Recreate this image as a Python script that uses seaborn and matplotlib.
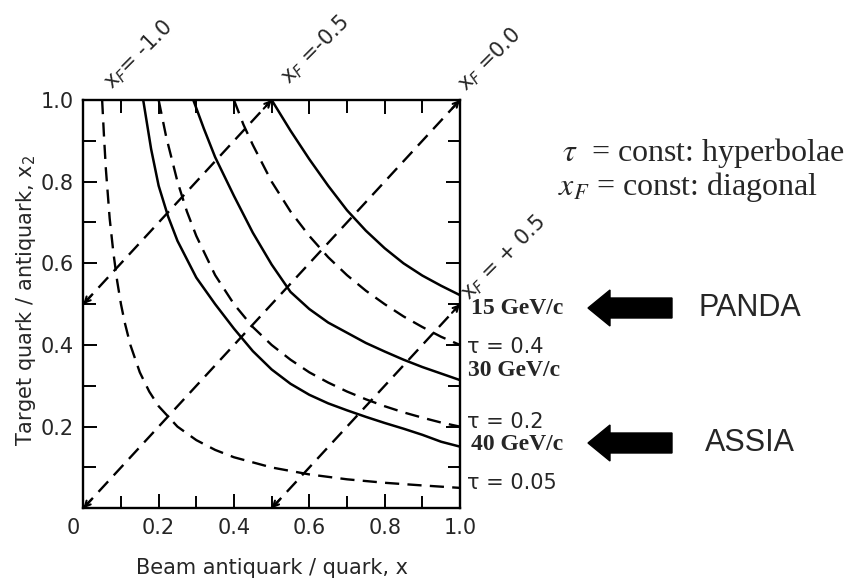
import matplotlib
matplotlib.use("Agg")
import matplotlib.pyplot as plt
import matplotlib.transforms as mtrans
import seaborn as sns
from matplotlib.patches import FancyArrow

# curves (beam x, target x2)
tau_labels = ["τ = 0.05", "τ = 0.2", "τ = 0.4"]
tau005_x = [0.05, 0.055, 0.06, 0.065, 0.07, 0.08, 0.09, 0.10, 0.11, 0.125, 0.15, 0.175, 0.20, 0.25,
            0.30, 0.35, 0.40, 0.50, 0.60, 0.70, 0.80, 0.90, 1.00]
tau005_y = [1.00, 0.91, 0.83, 0.77, 0.71, 0.625, 0.556, 0.50, 0.455, 0.40, 0.333, 0.286, 0.25, 0.20,
            0.167, 0.143, 0.125, 0.10, 0.083, 0.071, 0.0625, 0.056, 0.05]
tau02_x = [0.20, 0.22, 0.25, 0.275, 0.30, 0.35, 0.40, 0.45, 0.50, 0.55, 0.60, 0.65, 0.70, 0.75,
           0.80, 0.85, 0.90, 0.95, 1.00]
tau02_y = [1.00, 0.91, 0.80, 0.727, 0.667, 0.571, 0.50, 0.444, 0.40, 0.364, 0.333, 0.308, 0.286, 0.267,
           0.25, 0.235, 0.222, 0.21, 0.20]
tau04_x = [0.40, 0.425, 0.45, 0.50, 0.55, 0.60, 0.65, 0.70, 0.75, 0.80, 0.85, 0.90, 0.95, 1.00]
tau04_y = [1.00, 0.94, 0.89, 0.80, 0.727, 0.667, 0.615, 0.571, 0.533, 0.50, 0.47, 0.444, 0.42, 0.40]

gev_labels = ["15 GeV/c", "30 GeV/c", "40 GeV/c"]
p15_x = [0.50, 0.55, 0.60, 0.65, 0.70, 0.75, 0.80, 0.85, 0.90, 0.95, 1.00]
p15_y = [1.00, 0.925, 0.855, 0.79, 0.73, 0.68, 0.637, 0.60, 0.57, 0.545, 0.522]
p30_x = [0.292, 0.32, 0.35, 0.40, 0.45, 0.50, 0.55, 0.60, 0.65, 0.70, 0.75, 0.80, 0.85, 0.90, 0.95, 1.00]
p30_y = [1.00, 0.93, 0.86, 0.765, 0.675, 0.597, 0.53, 0.488, 0.455, 0.43, 0.405, 0.384, 0.364, 0.346, 0.33, 0.314]
p40_x = [0.159, 0.18, 0.20, 0.225, 0.25, 0.30, 0.35, 0.40, 0.45, 0.50, 0.55, 0.60, 0.65, 0.70, 0.75,
         0.80, 0.85, 0.90, 0.95, 1.00]
p40_y = [1.00, 0.88, 0.79, 0.715, 0.655, 0.565, 0.50, 0.44, 0.385, 0.34, 0.305, 0.278, 0.257, 0.24, 0.224,
         0.209, 0.195, 0.18, 0.163, 0.151]

# x_F = const diagonals (end points)
xf_names = ["-0.5", "0.0", "+0.5"]
xf_x = [[0.0, 0.5], [0.0, 1.0], [0.5, 1.0]]
xf_y = [[0.5, 1.0], [0.0, 1.0], [0.0, 0.5]]

W, H = 853, 586
AX_L, AX_R, AX_B, AX_T = 83.3, 460.0, 508.3, 100.0

sns.set_style("ticks")
plt.rcParams["font.family"] = ["DejaVu Sans"]
plt.rcParams["mathtext.fontset"] = "dejavusans"

fig = plt.figure(figsize=(W / 100, H / 100), dpi=100)
ax = fig.add_axes([AX_L / W, 1 - AX_B / H, (AX_R - AX_L) / W, (AX_B - AX_T) / H])

dash = (0, (6, 3.5))
for xs, ys in [(tau005_x, tau005_y), (tau02_x, tau02_y), (tau04_x, tau04_y)]:
    sns.lineplot(x=xs, y=ys, sort=False, estimator=None, color="black",
                 linewidth=1.7, linestyle=dash, ax=ax)
for xs, ys in [(p15_x, p15_y), (p30_x, p30_y), (p40_x, p40_y)]:
    sns.lineplot(x=xs, y=ys, sort=False, estimator=None, color="black",
                 linewidth=1.8, ax=ax)
for xs, ys in zip(xf_x, xf_y):
    sns.lineplot(x=xs, y=ys, sort=False, estimator=None, color="black",
                 linewidth=1.7, linestyle=dash, ax=ax)
    # small arrow heads at both ends of the diagonal
    for i, j in [(0, 1), (1, 0)]:
        ex, ey = xs[i], ys[i]
        dx, dy = xs[j] - ex, ys[j] - ey
        n = (dx ** 2 + dy ** 2) ** 0.5
        ax.annotate("", xy=(ex, ey), xytext=(ex + 0.03 * dx / n, ey + 0.03 * dy / n),
                    arrowprops=dict(arrowstyle="->", color="black", lw=1.5,
                                    shrinkA=0, shrinkB=0, mutation_scale=10),
                    annotation_clip=False)

ax.set_xlim(0, 1)
ax.set_ylim(0, 1)
ax.set_xticks([0, 0.2, 0.4, 0.6, 0.8, 1.0])
ax.set_xticklabels(["0", "0.2", "0.4", "0.6", "0.8", "1.0"])
ax.set_yticks([0.2, 0.4, 0.6, 0.8, 1.0])
ax.set_yticklabels(["0.2", "0.4", "0.6", "0.8", "1.0"])
ax.set_xticks([0.1, 0.3, 0.5, 0.7, 0.9], minor=True)
ax.set_yticks([0.1, 0.3, 0.5, 0.7, 0.9], minor=True)
ax.tick_params(which="both", direction="in", top=True, right=True,
               width=1.4, color="black", labelsize=15, pad=7)
ax.tick_params(which="major", length=10)
ax.tick_params(which="minor", length=9)
for s in ax.spines.values():
    s.set_linewidth(1.7)
    s.set_color("black")

# the "0" sits a little left of the origin in the original
lab0 = ax.get_xticklabels()[0]
lab0.set_transform(lab0.get_transform() + mtrans.ScaledTranslation(-0.10, 0, fig.dpi_scale_trans))

ax.set_xlabel("Beam antiquark / quark, x", fontsize=15)
ax.set_ylabel("Target quark / antiquark, x$_2$", fontsize=15)
ax.xaxis.set_label_coords(0.50, -0.122)
ax.yaxis.set_label_coords(-0.12, 0.51)


def px(xp, yp):
    # pixel position of the picture -> axes fraction
    return (xp - AX_L) / (AX_R - AX_L), (AX_B - yp) / (AX_B - AX_T)


for name, (cx, cy) in zip(["x$_F$= -1.0", "x$_F$ =-0.5", "x$_F$ =0.0", "x$_F$ = + 0.5"],
                          [(138, 55), (315, 50), (490, 60), (503, 258)]):
    tx, ty = px(cx, cy)
    ax.text(tx, ty, name, transform=ax.transAxes, rotation=45, fontsize=15,
            ha="center", va="center", rotation_mode="anchor", clip_on=False)

for lab, (lx, ly) in zip(tau_labels, [(467, 483), (467, 422), (467, 347)]):
    tx, ty = px(lx, ly)
    ax.text(tx, ty, lab, transform=ax.transAxes, fontsize=15, ha="left", va="center")

for lab, (lx, ly) in zip(gev_labels, [(471, 308), (468, 370), (471, 444)]):
    tx, ty = px(lx, ly)
    ax.text(tx, ty, lab, transform=ax.transAxes, fontsize=17, ha="left", va="center",
            family="Liberation Serif", fontweight="bold")

plt.rcParams["mathtext.fontset"] = "stix"
fig.text(562 / W, 1 - 153 / H, r"$\tau$  = const: hyperbolae", fontsize=23,
         family="Liberation Serif", va="center", ha="left")
fig.text(558 / W, 1 - 187 / H, r"$x_F$ = const: diagonal", fontsize=23,
         family="Liberation Serif", va="center", ha="left")

for name, yp in [("PANDA", 308), ("ASSIA", 443)]:
    fig.add_artist(FancyArrow(672 / 100, (H - yp) / 100, -(672 - 588) / 100, 0,
                              width=0.20, head_width=0.36, head_length=0.22,
                              length_includes_head=True, color="black",
                              transform=fig.dpi_scale_trans))
    fig.text(750 / W, 1 - yp / H, name, fontsize=22, family="Liberation Sans",
             ha="center", va="center")

fig.savefig("out.png", dpi=100)
